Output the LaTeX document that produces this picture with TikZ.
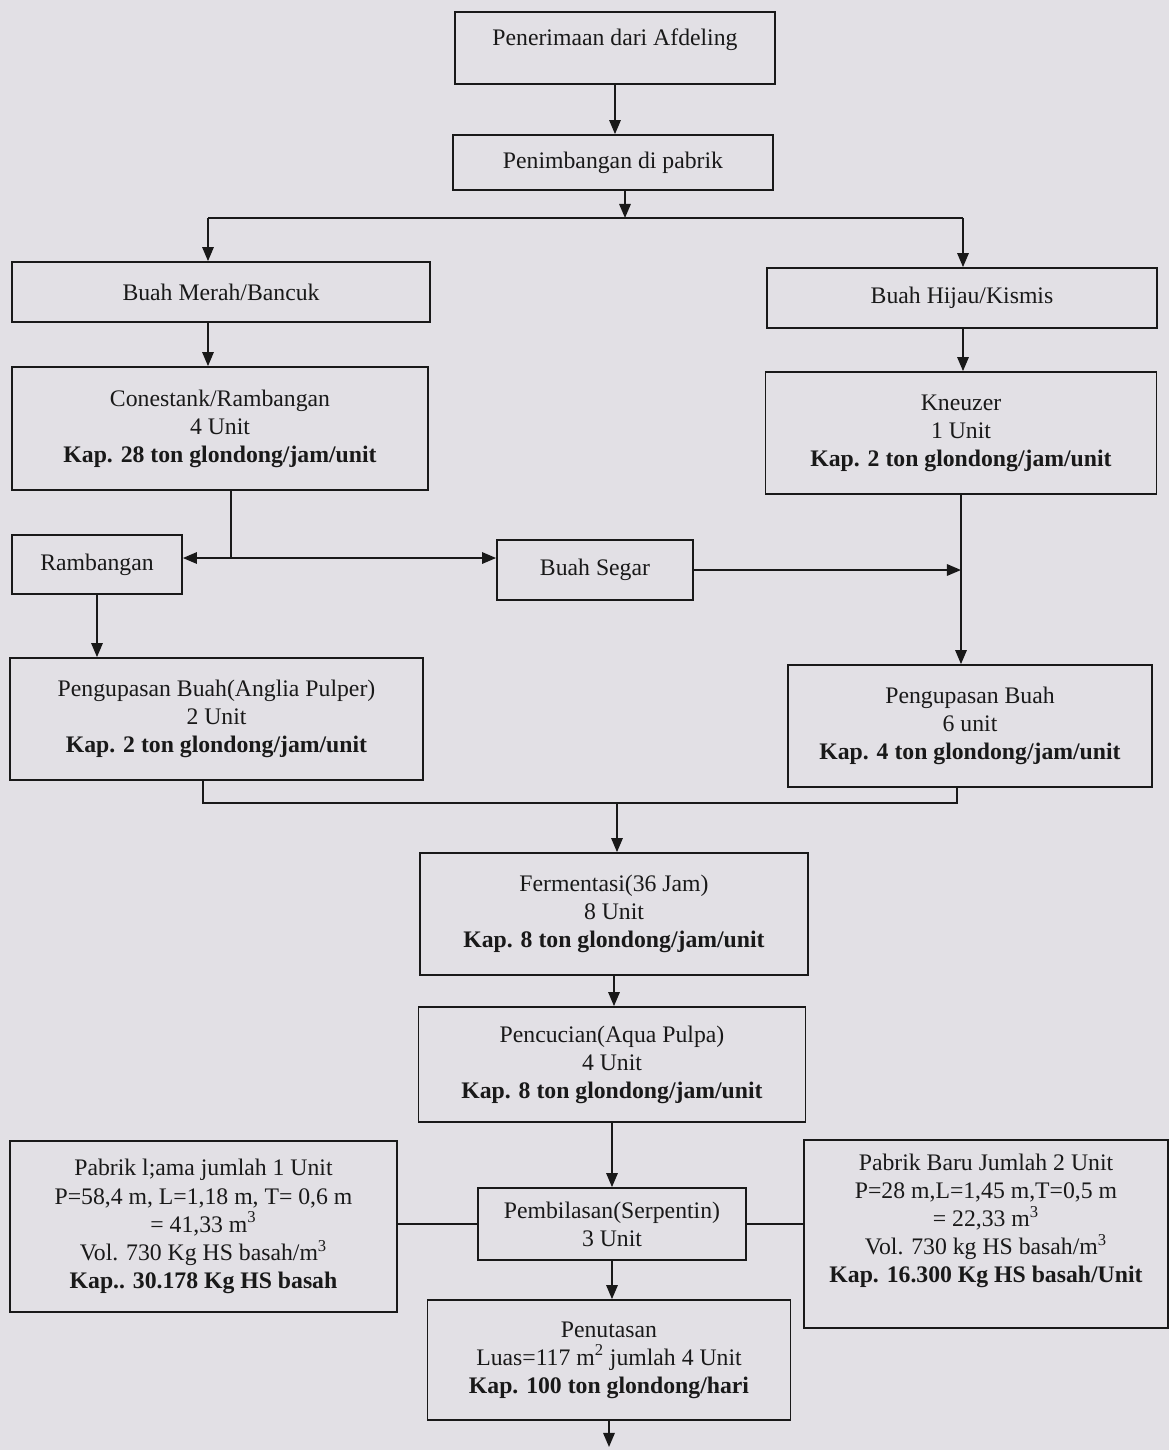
\documentclass[tikz,border=0pt]{standalone}
\usepackage{fontspec}
\setmainfont{Liberation Serif}
\usepackage{xcolor}
\usepackage{tikz}
\usetikzlibrary{arrows.meta, positioning, calc}
\definecolor{paper}{RGB}{226,224,229}
\definecolor{ink}{RGB}{25,25,25}
\tikzset{
  block/.style={rectangle, draw=ink, line width=1pt, align=center,
    inner sep=2pt, font=\fontsize{13.5}{16}\selectfont, text=ink},
  arrow/.style={-{Triangle[length=8pt, width=6.5pt]}, line width=1pt, color=ink},
  link/.style={line width=1pt, color=ink},
}

\begin{document}
\begin{tikzpicture}
  \fill[paper] (0,0) rectangle (23.38,-29);
  \useasboundingbox (0,0) rectangle (23.38,-29);

  % Intake
  \node[block, minimum width=6.4cm, minimum height=1.44cm] (pen) at (12.30,-0.96)
    {Penerimaan dari Afdeling\\[-4pt]};
  \node[block, minimum width=6.4cm, minimum height=1.1cm] (tim) at (12.26,-3.25)
    {Penimbangan di pabrik};

  % Two fruit streams
  \node[block, minimum width=8.36cm, minimum height=1.2cm] (merah) at (4.42,-5.84)
    {Buah Merah/Bancuk};
  \node[block, minimum width=7.8cm, minimum height=1.2cm] (hijau) at (19.24,-5.96)
    {Buah Hijau/Kismis};
  \node[block, minimum width=8.32cm, minimum height=2.46cm] (cone) at (4.40,-8.57)
    {Conestank/Rambangan\\4 Unit\\\textbf{Kap. 28 ton glondong/jam/unit}};
  \node[block, minimum width=7.82cm, minimum height=2.44cm] (kneu) at (19.22,-8.66)
    {Kneuzer\\1 Unit\\\textbf{Kap. 2 ton glondong/jam/unit}};
  \node[block, minimum width=3.4cm, minimum height=1.18cm] (ramb) at (1.94,-11.29)
    {Rambangan};
  \node[block, minimum width=3.92cm, minimum height=1.2cm] (segar) at (11.90,-11.40)
    {Buah Segar};
  \node[block, minimum width=8.26cm, minimum height=2.44cm] (kupasL) at (4.33,-14.38)
    {Pengupasan Buah(Anglia Pulper)\\2 Unit\\\textbf{Kap. 2 ton glondong/jam/unit}};
  \node[block, minimum width=7.28cm, minimum height=2.44cm] (kupasR) at (19.40,-14.52)
    {Pengupasan Buah\\6 unit\\\textbf{Kap. 4 ton glondong/jam/unit}};

  % Common line
  \node[block, minimum width=7.76cm, minimum height=2.44cm] (ferm) at (12.28,-18.28)
    {Fermentasi(36 Jam)\\8 Unit\\\textbf{Kap. 8 ton glondong/jam/unit}};
  \node[block, minimum width=7.74cm, minimum height=2.30cm] (cuci) at (12.24,-21.29)
    {Pencucian(Aqua Pulpa)\\4 Unit\\\textbf{Kap. 8 ton glondong/jam/unit}};
  \node[block, minimum width=5.36cm, minimum height=1.44cm] (bilas) at (12.24,-24.48)
    {Pembilasan(Serpentin)\\3 Unit};
  \node[block, minimum width=7.74cm, minimum height=3.42cm] (lama) at (4.07,-24.53)
    {Pabrik l;ama jumlah 1 Unit\\P=58,4 m, L=1,18 m, T= 0,6 m\\= 41,33 m\textsuperscript{3}\\
     Vol. 730 Kg HS basah/m\textsuperscript{3}\\\textbf{Kap.. 30.178 Kg HS basah}};
  \node[block, minimum width=7.28cm, minimum height=3.76cm] (baru) at (19.72,-24.68)
    {Pabrik Baru Jumlah 2 Unit\\P=28 m,L=1,45 m,T=0,5 m\\= 22,33 m\textsuperscript{3}\\
     Vol. 730 kg HS basah/m\textsuperscript{3}\\\textbf{Kap. 16.300 Kg HS basah/Unit}\\[2pt]};
  \node[block, minimum width=7.26cm, minimum height=2.40cm] (tutas) at (12.18,-27.20)
    {Penutasan\\Luas=117 m\textsuperscript{2} jumlah 4 Unit\\\textbf{Kap. 100 ton glondong/hari}};
  \coordinate (akhir) at (12.16,-28.94);

  % Junction points
  \coordinate (bagi) at (12.50,-4.36);
  \coordinate (bagiL) at (4.16,-4.36);
  \coordinate (bagiR) at (19.26,-4.36);
  \coordinate (cabang) at (4.62,-11.16);
  \coordinate (gabung) at (12.34,-16.06);
  \coordinate (gabungL) at (4.06,-16.06);
  \coordinate (gabungR) at (19.14,-16.06);

  % Arrows
  \draw[arrow] (pen.south) -- (pen.south |- tim.north);
  \draw[arrow] (tim.south -| bagi) -- (bagi);
  \draw[link] (bagiL) -- (bagiR);
  \draw[arrow] (bagiL) -- (bagiL |- merah.north);
  \draw[arrow] (bagiR) -- (bagiR |- hijau.north);
  \draw[arrow] (bagiL |- merah.south) -- (bagiL |- cone.north);
  \draw[arrow] (bagiR |- hijau.south) -- (bagiR |- kneu.north);
  \draw[link] (cone.south -| cabang) -- (cabang);
  \draw[arrow] (cabang) -- (cabang -| ramb.east);
  \draw[arrow] (cabang) -- (cabang -| segar.west);
  \draw[arrow] (segar.east) -- (segar.east -| kneu.south);
  \draw[arrow] (kneu.south) -- (kneu.south |- kupasR.north);
  \draw[arrow] (ramb.south) -- (ramb.south |- kupasL.north);
  \draw[link] (gabungL |- kupasL.south) -- (gabungL) -- (gabungR) -- (gabungR |- kupasR.south);
  \draw[arrow] (gabung) -- (gabung |- ferm.north);
  \draw[arrow] (ferm.south) -- (ferm.south |- cuci.north);
  \draw[arrow] (cuci.south) -- (cuci.south |- bilas.north);
  \draw[link] (lama.east |- bilas.west) -- (bilas.west);
  \draw[link] (bilas.east) -- (bilas.east -| baru.west);
  \draw[arrow] (bilas.south) -- (bilas.south |- tutas.north);
  \draw[arrow] (tutas.south) -- (tutas.south |- akhir);
\end{tikzpicture}
\end{document}
